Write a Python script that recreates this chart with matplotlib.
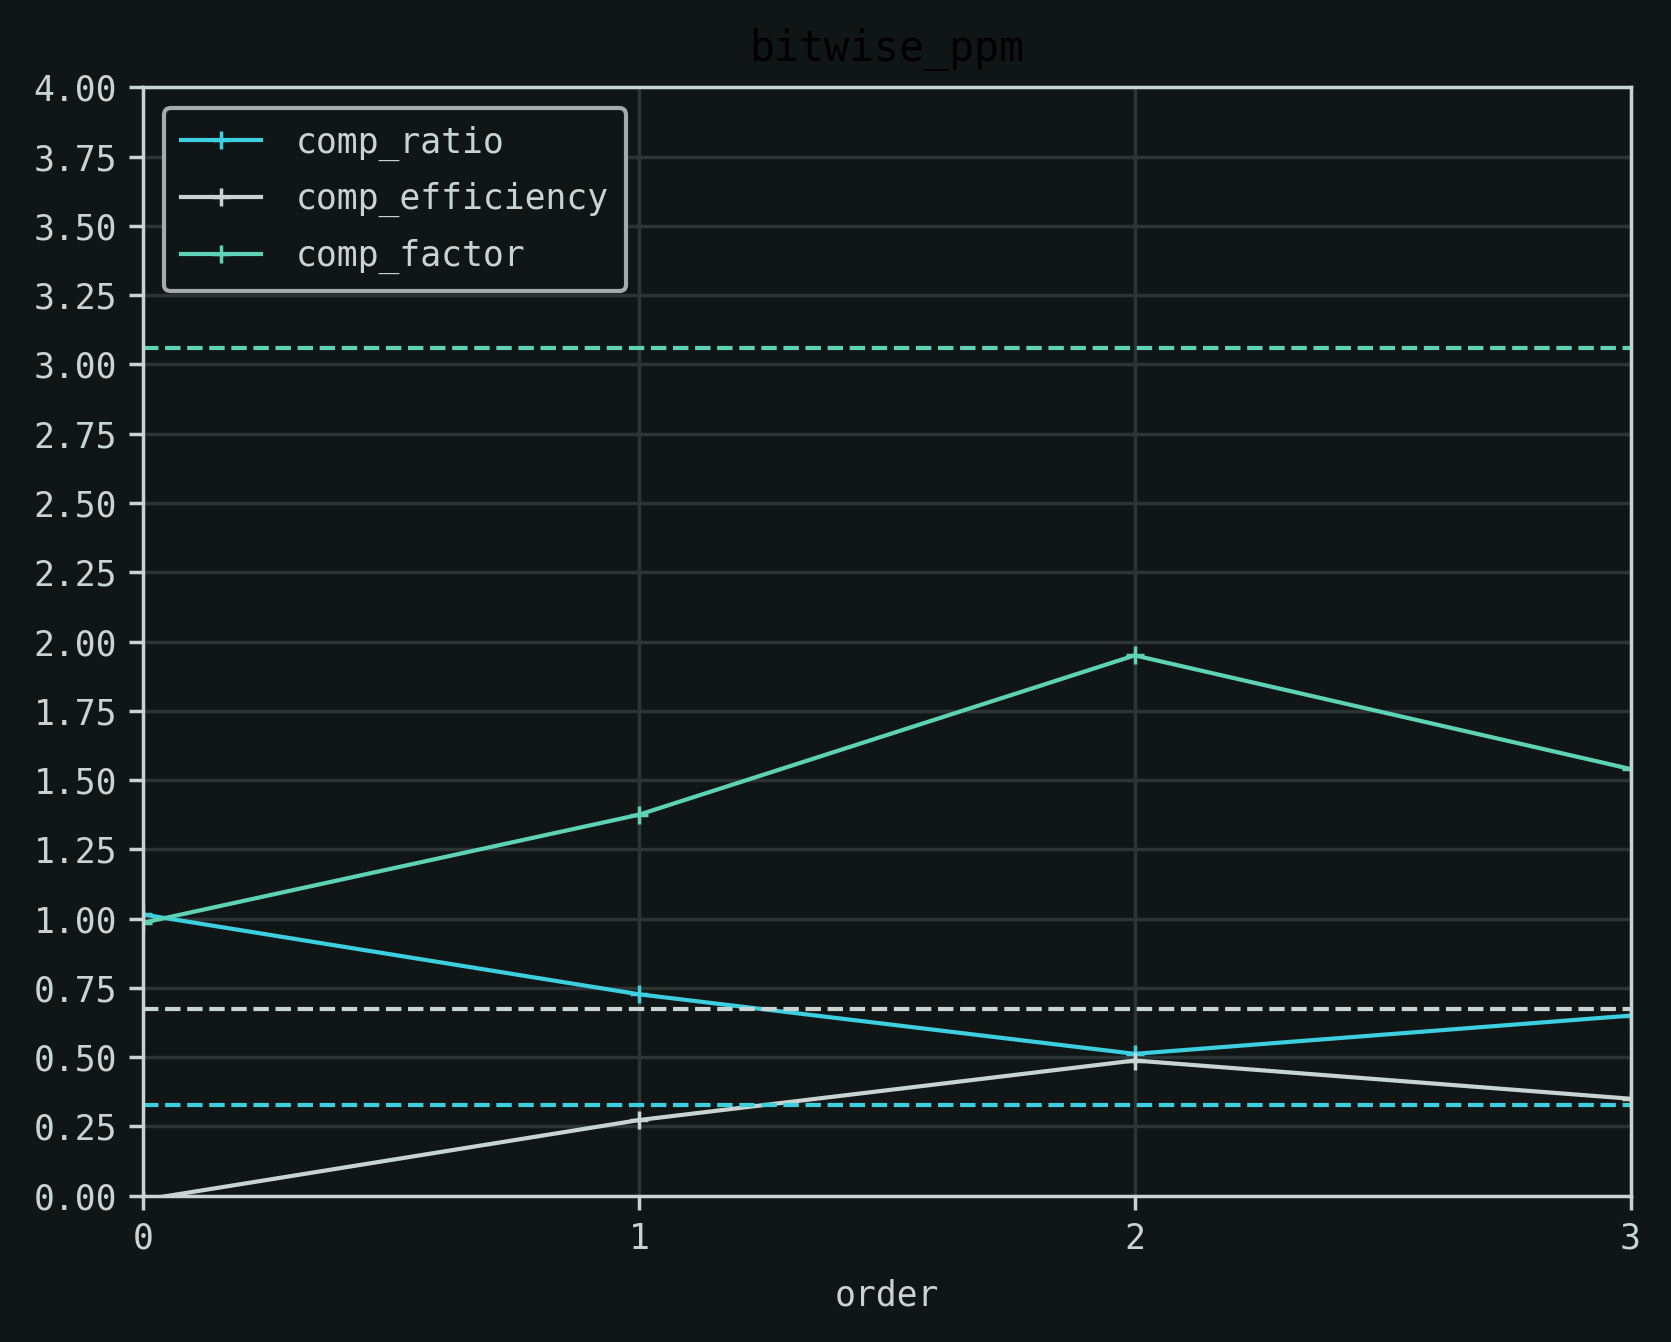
import numpy as np
import matplotlib
matplotlib.use("Agg")
import matplotlib.pyplot as plt

# values
order = [0, 1, 2, 3]
comp_ratio = [1.015, 0.727, 0.512, 0.650]
comp_efficiency = [-0.015, 0.273, 0.488, 0.350]
comp_factor = [0.985, 1.375, 1.950, 1.540]

# reference (dashed) levels
ref_ratio = 0.327
ref_efficiency = 0.673
ref_factor = 3.06

bg = '#101616'
fg = '#c9d3d1'
grid_c = '#2d3434'
c_ratio = '#3ccfe0'
c_eff = '#c9d3d1'
c_factor = '#5dd2b4'

plt.rcParams['font.family'] = ['DejaVu Sans Mono']
plt.rcParams['font.size'] = 10

fig = plt.figure(figsize=(1671 / 250, 1342 / 250), dpi=250, facecolor=bg)
ax = fig.add_axes([0.0856, 0.109, 0.8902, 0.8259])
ax.set_facecolor(bg)

ax.plot(order, comp_ratio, '+-', color=c_ratio, lw=1.2, ms=5, label='comp_ratio')
ax.plot(order, comp_efficiency, '+-', color=c_eff, lw=1.2, ms=5, label='comp_efficiency')
ax.plot(order, comp_factor, '+-', color=c_factor, lw=1.2, ms=5, label='comp_factor')

ax.axhline(ref_ratio, color=c_ratio, ls='--', lw=1.2)
ax.axhline(ref_efficiency, color=c_eff, ls='--', lw=1.2)
ax.axhline(ref_factor, color=c_factor, ls='--', lw=1.2)

ax.set_xlim(0, 3)
ax.set_ylim(0, 4)
ax.set_xticks(order)
ax.set_yticks(np.arange(0, 4.01, 0.25))
ax.yaxis.set_major_formatter(matplotlib.ticker.FormatStrFormatter('%.2f'))
ax.grid(True, color=grid_c, lw=1.0)
ax.set_axisbelow(True)

for s in ax.spines.values():
    s.set_color(fg)
    s.set_linewidth(1.0)
ax.tick_params(colors=fg, labelcolor=fg, length=4, width=1.0)

ax.set_xlabel('order', color=fg, labelpad=6.5)
ax.set_title('bitwise_ppm', color='black', pad=7.5)

leg = ax.legend(loc='upper left', facecolor=bg, edgecolor='#a4acab', framealpha=1.0,
                labelcolor=fg, borderpad=0.5, labelspacing=0.62, handletextpad=1.0,
                borderaxespad=0.6, handlelength=2.3)
leg.get_frame().set_linewidth(1.2)

fig.savefig('out.png', dpi=250, facecolor=bg)
